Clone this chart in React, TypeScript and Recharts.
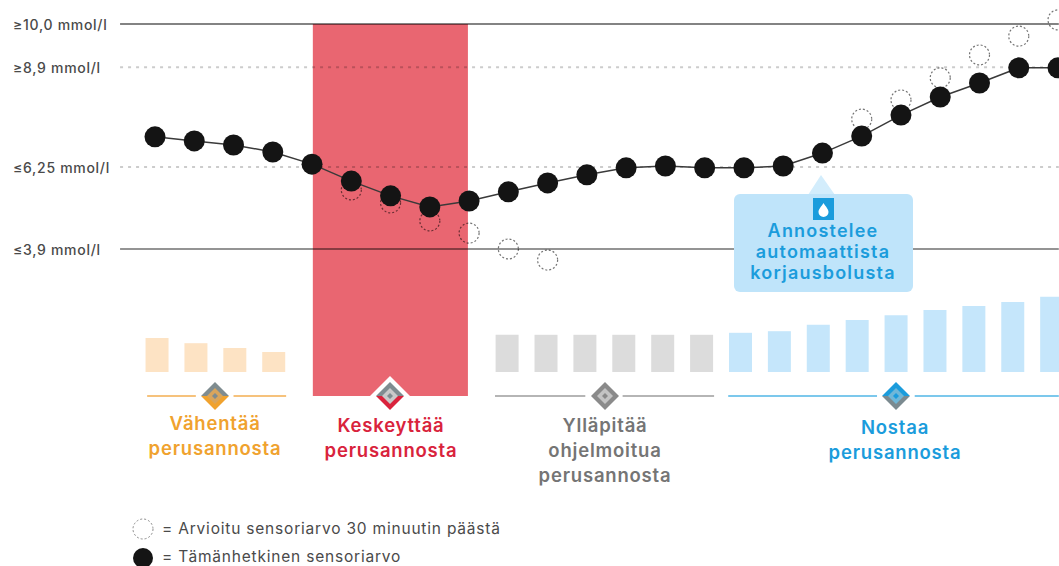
import { Bar, Cell, ComposedChart, Line, ReferenceArea, ReferenceLine, XAxis, YAxis } from "recharts"

const slots = [0, 1, 2, 3, 4, 5, 6, 7, 8, 9, 10, 11, 12, 13, 14, 15, 16, 17, 18, 19, 20, 21, 22, 23]
const sensorValues = [6.94, 6.83, 6.72, 6.53, 6.2, 5.74, 5.34, 5.04, 5.2, 5.45, 5.69, 5.91, 6.1, 6.15, 6.1, 6.1, 6.15, 6.5, 6.96, 7.53, 8.02, 8.4, 8.81, 8.81]
const predictedValues = [null, null, null, null, null, 5.5, 5.15, 4.66, 4.33, 3.9, 3.6, null, null, null, null, null, null, null, 7.42, 7.94, 8.54, 9.16, 9.67, 10.11]
const basalValues = [0.85, 0.72, 0.6, 0.5, null, null, null, null, null, 0.93, 0.93, 0.93, 0.93, 0.93, 0.93, 0.98, 1.02, 1.18, 1.3, 1.42, 1.55, 1.65, 1.75, 1.88]
const basalColors = ["#fde3c4", "#fde3c4", "#fde3c4", "#fde3c4", "", "", "", "", "", "#dcdcdc", "#dcdcdc", "#dcdcdc", "#dcdcdc", "#dcdcdc", "#dcdcdc", "#c5e6fb", "#c5e6fb", "#c5e6fb", "#c5e6fb", "#c5e6fb", "#c5e6fb", "#c5e6fb", "#c5e6fb", "#c5e6fb"]

const levelValues = [10, 8.83, 6.12, 3.9]
const levelLabels = ["≥10,0 mmol/l", "≥8,9 mmol/l", "≤6,25 mmol/l", "≤3,9 mmol/l"]

const chartData = slots.map((slot, i) => ({
  slot,
  sensor: sensorValues[i],
  predicted: predictedValues[i],
  basal: basalValues[i],
}))

const FONT = "Inter, 'Noto Sans', sans-serif"
const BASE_Y = -0.085
const LINE_START = -0.89
const LINE_END = 23.02

const ORANGE = "#f0a22e"
const RED = "#d9233c"
const GREY = "#757575"
const BLUE = "#1b9cdc"

const LevelTick = ({ y, payload }: any) => (
  <text x={13} y={y + 6} fontFamily={FONT} fontSize={14} fontWeight={500} letterSpacing={0.7} fill="#4a4a4a">
    {levelLabels[levelValues.indexOf(payload.value)]}
  </text>
)

function Diamond({ cx, top, bottom, inner }: { cx: number; top: string; bottom: string; inner: string }) {
  const cy = 396
  return (
    <g>
      <polygon points={`${cx - 14},${cy} ${cx},${cy - 14} ${cx + 14},${cy}`} fill={top} />
      <polygon points={`${cx - 14},${cy} ${cx},${cy + 14} ${cx + 14},${cy}`} fill={bottom} />
      <polygon points={`${cx - 8},${cy} ${cx},${cy - 8} ${cx + 8},${cy} ${cx},${cy + 8}`} fill={inner} />
      <polygon points={`${cx - 3},${cy} ${cx},${cy - 3} ${cx + 3},${cy} ${cx},${cy + 3}`} fill={top} />
    </g>
  )
}

function PhaseLabel({ cx, y, lines, color, size = 18.5, spacing = 0.8 }: { cx: number; y: number; lines: string[]; color: string; size?: number; spacing?: number }) {
  return (
    <text x={cx} y={y} textAnchor="middle" fontFamily={FONT} fontSize={size} fontWeight={600} letterSpacing={spacing} fill={color}>
      {lines.map((line, i) => (
        <tspan key={line} x={cx} dy={i === 0 ? 0 : 25}>
          {line}
        </tspan>
      ))}
    </text>
  )
}

export default function App() {
  return (
    <div style={{ position: "absolute", left: 0, top: 0, width: 1059, height: 566, background: "#fff", overflow: "hidden" }}>
      <ComposedChart width={1059} height={566} data={chartData} margin={{ top: 0, right: 0, bottom: 0, left: 0 }}>
        <XAxis xAxisId="sensor" dataKey="slot" type="number" domain={[-3.948, 23.025]} hide allowDataOverflow />
        <XAxis xAxisId="basal" dataKey="slot" type="number" domain={[-4.036, 23.19]} hide allowDataOverflow />
        <YAxis
          yAxisId="glucose"
          width={1}
          mirror
          type="number"
          domain={[-4.695, 10.65]}
          ticks={levelValues}
          interval={0}
          axisLine={false}
          tickLine={false}
          tick={<LevelTick />}
          allowDataOverflow
        />
        <YAxis yAxisId="rate" type="number" domain={[-4.85, 9.3]} hide allowDataOverflow />

        <ReferenceArea xAxisId="sensor" yAxisId="glucose" x1={4.02} x2={7.97} y1={10} y2={BASE_Y} fill="#e96671" fillOpacity={1} stroke="none" />

        {levelValues.map((level, i) => (
          <ReferenceLine
            key={level}
            xAxisId="sensor"
            yAxisId="glucose"
            segment={[{ x: LINE_START, y: level }, { x: LINE_END, y: level }]}
            stroke={i === 0 ? "rgba(0,0,0,0.65)" : i === 3 ? "rgba(0,0,0,0.42)" : "rgba(0,0,0,0.2)"}
            strokeWidth={i === 0 ? 1.5 : 2}
            strokeDasharray={i === 1 || i === 2 ? "3 5" : undefined}
          />
        ))}

        <ReferenceLine xAxisId="sensor" yAxisId="glucose" segment={[{ x: -0.2, y: BASE_Y }, { x: 1.04, y: BASE_Y }]} stroke="#f6c27c" strokeWidth={2} />
        <ReferenceLine xAxisId="sensor" yAxisId="glucose" segment={[{ x: 2, y: BASE_Y }, { x: 3.34, y: BASE_Y }]} stroke="#f6c27c" strokeWidth={2} />
        <ReferenceLine xAxisId="sensor" yAxisId="glucose" segment={[{ x: 8.66, y: BASE_Y }, { x: 10.96, y: BASE_Y }]} stroke="#b5b5b5" strokeWidth={2} />
        <ReferenceLine xAxisId="sensor" yAxisId="glucose" segment={[{ x: 11.91, y: BASE_Y }, { x: 14.24, y: BASE_Y }]} stroke="#b5b5b5" strokeWidth={2} />
        <ReferenceLine xAxisId="sensor" yAxisId="glucose" segment={[{ x: 14.6, y: BASE_Y }, { x: 18.39, y: BASE_Y }]} stroke="#7cc8ec" strokeWidth={2} />
        <ReferenceLine xAxisId="sensor" yAxisId="glucose" segment={[{ x: 19.35, y: BASE_Y }, { x: LINE_END, y: BASE_Y }]} stroke="#7cc8ec" strokeWidth={2} />

        <Bar xAxisId="basal" yAxisId="rate" dataKey="basal" barSize={23} isAnimationActive={false}>
          {chartData.map((entry, i) => (
            <Cell key={entry.slot} fill={basalColors[i] || "none"} />
          ))}
        </Bar>

        <Line
          xAxisId="sensor"
          yAxisId="glucose"
          dataKey="predicted"
          stroke="none"
          connectNulls={false}
          dot={{ r: 10, fill: "none", stroke: "rgba(0,0,0,0.55)", strokeWidth: 1.2, strokeDasharray: "2 2" }}
          activeDot={false}
          isAnimationActive={false}
        />
        <Line
          xAxisId="sensor"
          yAxisId="glucose"
          dataKey="sensor"
          stroke="#3a3a3a"
          strokeWidth={1.5}
          dot={{ r: 10.5, fill: "#141414", stroke: "none" }}
          activeDot={false}
          isAnimationActive={false}
        />
      </ComposedChart>

      <svg width={1059} height={566} style={{ position: "absolute", left: 0, top: 0, pointerEvents: "none" }}>
        <polygon points="821,175 808,195 835,195" fill="#d3edfc" />
        <rect x={734} y={194} width={179} height={98} rx={6} fill="#bfe4fa" />
        <rect x={813} y={198} width={21} height={22} fill={BLUE} />
        <path d="M823.5 203 C826 207 828.5 209 828.5 212 A5 5 0 0 1 818.5 212 C818.5 209 821 207 823.5 203 Z" fill="#fff" />
        <PhaseLabel cx={823} y={237} lines={["Annostelee"]} color={BLUE} size={18} spacing={1.2} />
        <PhaseLabel cx={823} y={258} lines={["automaattista"]} color={BLUE} size={18} spacing={1.2} />
        <PhaseLabel cx={823} y={279} lines={["korjausbolusta"]} color={BLUE} size={18} spacing={1.2} />

        <Diamond cx={215} top="#7f8c90" bottom={ORANGE} inner="#d9a55c" />
        <polygon points="390,376 410,396 390,416 370,396" fill="#fff" />
        <Diamond cx={390} top="#7f8c90" bottom={RED} inner="#c9c9c9" />
        <Diamond cx={605} top="#8a8a8a" bottom="#8a8a8a" inner="#c4c4c4" />
        <Diamond cx={896} top={BLUE} bottom="#7b8a90" inner="#6fb7d8" />

        <PhaseLabel cx={215} y={430} lines={["Vähentää", "perusannosta"]} color={ORANGE} />
        <PhaseLabel cx={391} y={432} lines={["Keskeyttää", "perusannosta"]} color={RED} />
        <PhaseLabel cx={605} y={432} lines={["Ylläpitää", "ohjelmoitua", "perusannosta"]} color={GREY} />
        <PhaseLabel cx={895} y={434} lines={["Nostaa", "perusannosta"]} color={BLUE} />

        <circle cx={143} cy={529} r={10} fill="none" stroke="#8a8a8a" strokeWidth={1} strokeDasharray="2 2" />
        <text x={162} y={534} fontFamily={FONT} fontSize={15.5} letterSpacing={0.8} fill="#4a4a4a">= Arvioitu sensoriarvo 30 minuutin päästä</text>
        <circle cx={143} cy={558} r={10} fill="#141414" />
        <text x={162} y={562} fontFamily={FONT} fontSize={15.5} letterSpacing={0.8} fill="#4a4a4a">= Tämänhetkinen sensoriarvo</text>
      </svg>
    </div>
  )
}
